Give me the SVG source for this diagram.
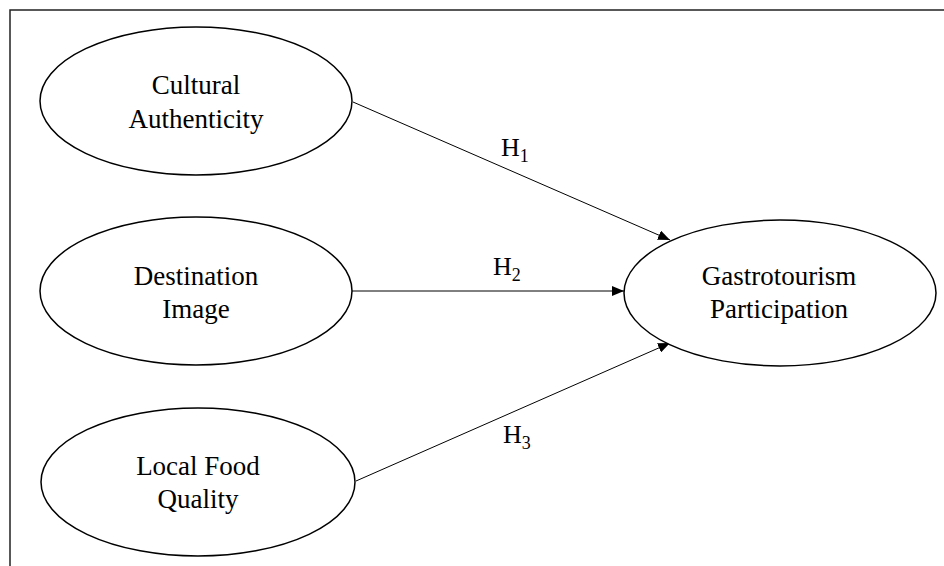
<svg xmlns="http://www.w3.org/2000/svg" width="944" height="566" viewBox="0 0 944 566">
<style>
.node ellipse{fill:#fff;stroke:#000;stroke-width:1.5}
.lbl{font-family:"Liberation Serif","Times New Roman",serif;font-size:27px;fill:#000;text-anchor:middle}
.h{font-family:"Liberation Serif","Times New Roman",serif;font-size:26px;fill:#000}
.sub{font-size:18px}
.conn line{stroke:#000;stroke-width:1}
</style>
<defs>
<marker id="arr" markerUnits="userSpaceOnUse" markerWidth="12" markerHeight="10" refX="12" refY="5" orient="auto">
<path d="M0,0 L12,5 L0,10 z" fill="#000"/>
</marker>
</defs>
<rect width="944" height="566" fill="#fff"/>
<path d="M10,566 L10,10 L944,10" fill="none" stroke="#222" stroke-width="1.5"/>
<g class="conn">
<line x1="353" y1="102" x2="670" y2="240" marker-end="url(#arr)"/>
<line x1="352" y1="291" x2="624" y2="291" marker-end="url(#arr)"/>
<line x1="356" y1="481" x2="670" y2="343" marker-end="url(#arr)"/>
</g>
<g id="h1"><text class="h" x="501" y="156">H<tspan class="sub" dy="6">1</tspan></text></g>
<g id="h2"><text class="h" x="493" y="275">H<tspan class="sub" dy="6">2</tspan></text></g>
<g id="h3"><text class="h" x="503" y="443">H<tspan class="sub" dy="6">3</tspan></text></g>
<g id="cultural" class="node">
<ellipse cx="196" cy="101" rx="156" ry="74"/>
<text class="lbl" x="196" y="94">Cultural</text>
<text class="lbl" x="196" y="128">Authenticity</text>
</g>
<g id="destination" class="node">
<ellipse cx="196" cy="291" rx="156" ry="74"/>
<text class="lbl" x="196" y="285">Destination</text>
<text class="lbl" x="196" y="318">Image</text>
</g>
<g id="localfood" class="node">
<ellipse cx="198" cy="482" rx="157" ry="74"/>
<text class="lbl" x="198" y="475">Local Food</text>
<text class="lbl" x="198" y="508">Quality</text>
</g>
<g id="gastro" class="node">
<ellipse cx="780" cy="293" rx="156" ry="73"/>
<text class="lbl" x="779" y="285">Gastrotourism</text>
<text class="lbl" x="779" y="318">Participation</text>
</g>
</svg>
